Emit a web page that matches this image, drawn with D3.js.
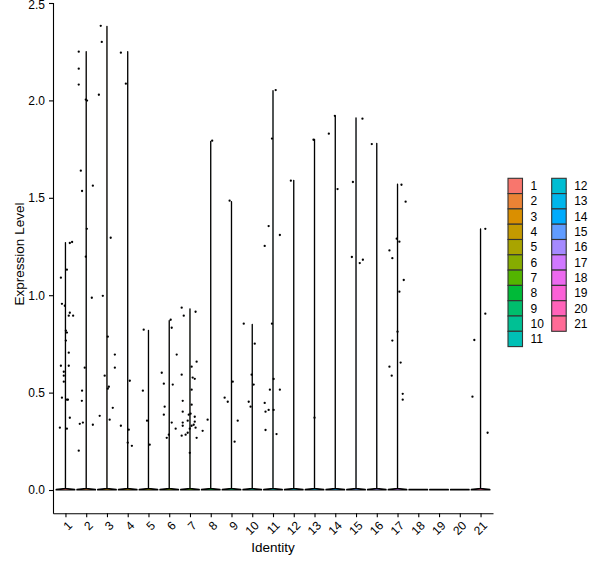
<!DOCTYPE html>
<html>
<head>
<meta charset="utf-8">
<script src="https://cdn.jsdelivr.net/npm/d3@7"></script>
<style>
  body { margin: 0; background: #fff; }
  text { font-family: Arial, "Liberation Sans", sans-serif; fill: #000; }
</style>
</head>
<body>
<div id="chart"></div>
<script>
// identities (clusters) on the x axis
var identities = ["1","2","3","4","5","6","7","8","9","10","11","12","13","14","15","16","17","18","19","20","21"];

// top of each violin (max expression per identity)
var violinMax = [1.27, 2.25, 2.38, 2.25, 0.82, 0.87, 0.93, 1.79, 1.48, 0.85, 2.05,
                 1.59, 1.80, 1.92, 1.91, 1.78, 1.57, 0, 0, 0, 1.34];

// y axis ticks
var yTicks = [0, 0.5, 1.0, 1.5, 2.0, 2.5];

// non-zero cells: [identity, expression, jitter (in identity units)]
var cellPoints = [
  [1,1.268,0.21],[1,1.273,0.32],[1,1.131,0.07],[1,1.090,-0.22],[1,0.956,-0.17],[1,0.946,-0.03],
  [1,0.910,0.21],[1,0.895,0.16],[1,0.895,0.37],[1,0.818,0.02],[1,0.808,0.07],[1,0.767,0.02],
  [1,0.705,0.16],[1,0.638,-0.22],[1,0.638,0.16],[1,0.607,-0.08],[1,0.587,-0.08],[1,0.556,-0.08],
  [1,0.474,-0.17],[1,0.464,0.07],[1,0.464,0.12],[1,0.371,0.21],[1,0.320,-0.27],[1,0.315,0.07],
  [2,2.250,-0.36],[2,2.163,-0.36],[2,2.081,-0.36],[2,2.004,-0.02],[2,1.999,0.04],[2,1.639,-0.26],
  [2,1.535,-0.20],[2,1.562,0.32],[2,1.341,0.03],[2,1.198,-0.02],[2,0.987,0.27],[2,0.628,-0.07],
  [2,0.510,-0.20],[2,0.458,-0.21],[2,0.340,-0.31],[2,0.346,-0.16],[2,0.335,0.32],[2,0.202,-0.36],
  [3,2.383,-0.30],[3,2.300,-0.25],[3,2.029,-0.39],[3,0.997,-0.20],[3,1.295,0.18],[3,0.787,0.04],
  [3,0.695,0.38],[3,0.628,0.38],[3,0.587,-0.11],[3,0.530,0.09],[3,0.520,0.04],[3,0.422,0.28],
  [3,0.361,0.13],[3,0.381,-0.35],
  [4,2.245,-0.33],[4,2.086,-0.09],[4,0.561,0.10],[4,0.330,-0.33],[4,0.310,0.05],[4,0.243,0.00],
  [4,0.227,0.20],
  [5,0.823,-0.23],[5,0.510,-0.27],[5,0.356,-0.07],[5,0.233,0.06],
  [6,0.874,0.07],[6,0.833,0.12],[6,0.695,0.36],[6,0.602,-0.36],[6,0.546,-0.26],[6,0.541,0.17],
  [6,0.428,-0.22],[6,0.387,-0.26],[6,0.346,0.12],[6,0.315,0.31],[6,0.284,-0.02],[6,0.268,-0.12],
  [7,0.936,-0.40],[7,0.915,0.27],[7,0.895,-0.30],[7,0.659,0.32],[7,0.633,0.08],[7,0.592,-0.40],
  [7,0.577,0.13],[7,0.571,0.23],[7,0.515,0.08],[7,0.458,-0.35],[7,0.438,0.08],[7,0.402,-0.35],
  [7,0.392,0.03],[7,0.387,-0.06],[7,0.376,0.23],[7,0.356,-0.11],[7,0.351,0.23],[7,0.346,-0.35],
  [7,0.335,0.18],[7,0.330,-0.35],[7,0.330,0.08],[7,0.315,-0.01],[7,0.320,0.27],[7,0.284,-0.21],
  [7,0.279,-0.40],[7,0.294,-0.11],[7,0.268,0.32],[7,0.191,-0.01],
  [8,1.793,0.07],[8,0.361,-0.15],[8,0.304,-0.39],
  [9,1.485,-0.09],[9,0.556,0.06],[9,0.474,-0.33],[9,0.453,-0.18],[9,0.356,0.30],[9,0.248,0.15],
  [10,0.854,-0.41],[10,0.751,0.12],[10,0.592,-0.03],[10,0.541,0.07],[10,0.453,-0.17],[10,0.428,-0.08],
  [11,2.053,0.13],[11,1.804,-0.05],[11,1.355,-0.21],[11,1.309,0.33],[11,1.253,-0.40],[11,0.854,-0.05],
  [11,0.570,0.03],[11,0.515,-0.15],[11,0.515,0.33],[11,0.447,-0.40],[11,0.402,-0.36],[11,0.411,-0.21],
  [11,0.411,0.03],[11,0.308,-0.36],[11,0.287,0.17],
  [12,1.588,-0.14],
  [13,1.798,-0.05],[13,0.371,0.00],
  [14,1.921,-0.02],[14,1.829,-0.31],[14,1.545,0.11],
  [15,1.906,0.31],[15,1.581,-0.15],[15,1.196,-0.20],[15,1.165,0.18],[15,1.182,0.33],
  [16,1.776,-0.24],
  [17,1.567,0.19],[17,1.480,0.39],[17,1.290,-0.04],[17,1.275,0.09],[17,1.230,-0.39],[17,1.190,-0.25],
  [17,1.078,0.30],[17,1.018,0.09],[17,0.813,0.00],[17,0.767,-0.25],[17,0.654,0.15],[17,0.633,-0.39],
  [17,0.587,-0.28],[17,0.494,0.25],[17,0.464,0.25],
  [21,1.341,0.23],[21,0.905,0.23],[21,0.770,-0.30],[21,0.479,-0.39],[21,0.294,0.34]
];

// ggplot default hue palette (polar Luv, c = 100, l = 65)
function hueColour(h) {
  var Xn = 95.047, Yn = 100, Zn = 108.883, l = 65, c = 100;
  var den = Xn + 15 * Yn + 3 * Zn, un = 4 * Xn / den, vn = 9 * Yn / den;
  var rad = h * Math.PI / 180;
  var Y = Yn * Math.pow((l + 16) / 116, 3);
  var up = c * Math.cos(rad) / (13 * l) + un;
  var vp = c * Math.sin(rad) / (13 * l) + vn;
  var X = Y * 9 * up / (4 * vp);
  var Z = Y * (12 - 3 * up - 20 * vp) / (4 * vp);
  X /= 100; Y /= 100; Z /= 100;
  var r = 3.240479 * X - 1.537150 * Y - 0.498535 * Z;
  var g = -0.969256 * X + 1.875992 * Y + 0.041556 * Z;
  var b = 0.055648 * X - 0.204043 * Y + 1.057311 * Z;
  function gam(u) {
    u = u > 0.0031308 ? 1.055 * Math.pow(u, 1 / 2.4) - 0.055 : 12.92 * u;
    return Math.round(255 * Math.max(0, Math.min(1, u)));
  }
  return d3.rgb(gam(r), gam(g), gam(b)).formatHex();
}
var colours = identities.map(function(d, i) { return hueColour(15 + i * 360 / identities.length); });

var svgWidth = 600, svgHeight = 568;

var svg = d3.select("#chart")
  .append("svg")
  .attr("width", svgWidth)
  .attr("height", svgHeight);

// scales: identity index on x, expression on y
var xScale = d3.scaleLinear().domain([0.4, identities.length + 0.6]).range([53, 493]);
var yScale = d3.scaleLinear().domain([-0.119, 2.502]).range([513.2, 2.6]);

// violins: a wide sliver at zero and a hairline up to the max
var line = d3.line()
  .x(function(p) { return xScale(p[0]); })
  .y(function(p) { return yScale(p[1]); });

function violinOutline(i, m) {
  var c = i + 1;
  var pts = [[c - 0.45, 0], [c + 0.45, 0], [c + 0.45, 0.003]];
  if (m > 0) {
    pts.push([c + 0.004, 0.008], [c + 0.003, m], [c - 0.003, m], [c - 0.004, 0.008]);
  }
  pts.push([c - 0.45, 0.003]);
  return line(pts) + "Z";
}

svg.append("g")
  .selectAll("path")
  .data(violinMax)
  .enter()
  .append("path")
  .attr("d", function(m, i) { return violinOutline(i, m); })
  .attr("fill", function(m, i) { return colours[i]; })
  .attr("stroke", "#000")
  .attr("stroke-width", 1.2)
  .attr("stroke-linejoin", "round");

// jittered cells
svg.append("g")
  .selectAll("circle")
  .data(cellPoints)
  .enter()
  .append("circle")
  .attr("cx", function(d) { return xScale(d[0] + d[2]); })
  .attr("cy", function(d) { return yScale(d[1]); })
  .attr("r", 1.15)
  .attr("fill", "#000");

// axes
var yAxis = svg.append("g")
  .attr("transform", "translate(53,0)")
  .call(d3.axisLeft(yScale).tickValues(yTicks).tickFormat(d3.format(".1f"))
        .tickSize(4).tickSizeOuter(0).tickPadding(4));

var xAxis = svg.append("g")
  .attr("transform", "translate(0,513.2)")
  .call(d3.axisBottom(xScale).tickValues(d3.range(1, identities.length + 1))
        .tickFormat(function(v) { return identities[v - 1]; })
        .tickSize(4).tickSizeOuter(0));

[yAxis, xAxis].forEach(function(ax) {
  ax.select(".domain").attr("stroke", "#000").attr("stroke-width", 1.1);
  ax.selectAll(".tick line").attr("stroke", "#000").attr("stroke-width", 1.1);
  ax.selectAll("text").attr("font-size", "12px").attr("font-family", null).attr("fill", "#000");
});

// keep the top tick label inside the picture
yAxis.selectAll(".tick text").filter(function(v) { return v === 2.5; }).attr("dy", "0.5em");

xAxis.selectAll(".tick text")
  .attr("y", 0)
  .attr("dy", "0.71em")
  .attr("text-anchor", "end")
  .attr("transform", "translate(1,7) rotate(-45)");

// axis titles
svg.append("text")
  .attr("transform", "translate(24,254) rotate(-90)")
  .attr("text-anchor", "middle")
  .attr("font-size", "13.5px")
  .text("Expression Level");

svg.append("text")
  .attr("x", 273)
  .attr("y", 552)
  .attr("text-anchor", "middle")
  .attr("font-size", "13.5px")
  .text("Identity");

// legend, two columns
var perCol = 11, keyH = 15.3, keyW = 14.5;
var legend = svg.append("g");
var item = legend.selectAll("g")
  .data(identities)
  .enter()
  .append("g")
  .attr("transform", function(d, i) {
    var col = Math.floor(i / perCol), row = i % perCol;
    return "translate(" + (508 + col * 43.7) + "," + (178.3 + row * keyH) + ")";
  });

item.append("rect")
  .attr("width", keyW)
  .attr("height", keyH)
  .attr("fill", function(d, i) { return colours[i]; })
  .attr("stroke", "#333")
  .attr("stroke-width", 1.1);

item.append("text")
  .attr("x", 22.5)
  .attr("y", keyH / 2)
  .attr("dy", "0.35em")
  .attr("font-size", "12px")
  .text(function(d) { return d; });
</script>
</body>
</html>
